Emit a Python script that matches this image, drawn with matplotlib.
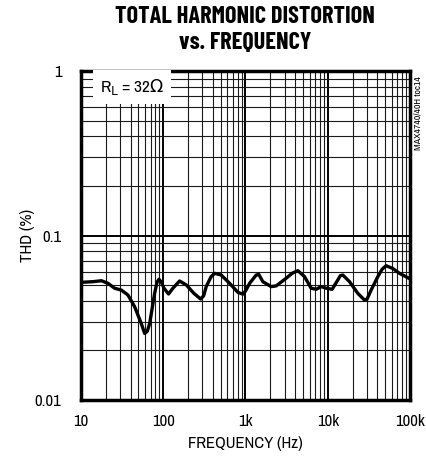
import matplotlib.pyplot as plt
from matplotlib import font_manager

# Données (fréquence en Hz, THD en %)
freq = [10, 14, 17.7, 21.3, 25.6, 30.9, 37.2, 44.9, 54, 59.4, 64, 68.4, 78.5,
        84, 88.7, 95, 102, 116, 131, 158, 191, 236, 285, 310, 333, 380, 421,
        507, 641, 809, 929, 1000, 1122, 1349, 1450, 1626, 2052, 2360, 2700,
        3124, 3700, 4333, 5226, 6286, 7230, 8318, 9550, 11300, 13270, 14200,
        15250, 18400, 23200, 28000, 30000, 33700, 40600, 46000, 51300, 61800,
        74500, 100000]
thd = [0.0519, 0.0524, 0.0531, 0.0512, 0.0478, 0.0466, 0.0435, 0.0369, 0.0292,
       0.0254, 0.0262, 0.0292, 0.0445, 0.0520, 0.0542, 0.0520, 0.0478, 0.0441,
       0.0478, 0.0529, 0.050, 0.0445, 0.0411, 0.0430, 0.0489, 0.0560, 0.0589,
       0.0575, 0.0512, 0.0451, 0.0440, 0.0460, 0.0512, 0.0575, 0.0580, 0.0524,
       0.0489, 0.0494, 0.0520, 0.055, 0.0590, 0.0611, 0.0562, 0.0478, 0.0471,
       0.0489, 0.0478, 0.0471, 0.0537, 0.0570, 0.0575, 0.0524, 0.0445, 0.0405,
       0.0410, 0.0466, 0.0562, 0.0625, 0.0655, 0.063, 0.0589, 0.0545]

xticks = [10, 100, 1000, 10000, 100000]
xlabels = ["10", "100", "1k", "10k", "100k"]
yticks = [0.01, 0.1, 1]
ylabels = ["0.01", "0.1", "1"]

noms = {f.name for f in font_manager.fontManager.ttflist}


def choisir(*candidats):
    for c in candidats:
        if c in noms:
            return c
    return "Liberation Sans"


police = choisir("Liberation Sans Narrow", "Archivo Narrow", "Barlow Semi Condensed")
police_titre = choisir("Barlow Condensed", "Asap Condensed", police)
plt.rcParams['font.family'] = [police, 'DejaVu Sans']

fig = plt.figure(figsize=(4.27, 4.59), dpi=100)
ax = fig.add_axes([81 / 427, 1 - 400 / 459, 329 / 427, 329 / 459])

ax.set_xscale("log")
ax.set_yscale("log")
ax.set_xlim(10, 100000)
ax.set_ylim(0.01, 1)

# Grille
ax.grid(True, which="major", color="black", linewidth=1.4)
ax.grid(True, which="minor", color="#1a1a1a", linewidth=0.8)
ax.tick_params(which="both", length=0)
ax.set_xticks(xticks, xlabels, fontsize=12)
ax.set_yticks(yticks, ylabels, fontsize=12)
ax.tick_params(axis="x", pad=10)
ax.tick_params(axis="y", pad=14)
for s in ax.spines.values():
    s.set_linewidth(2.5)

ax.plot(freq, thd, color="black", linewidth=2.4, solid_joinstyle="round",
        solid_capstyle="round")

ax.set_xlabel("FREQUENCY (Hz)", fontsize=12, labelpad=5)
ax.set_ylabel("THD (%)", fontsize=12, labelpad=0)

# Boîte R_L
ax.text(0.058, 0.952, r"R$_\mathrm{L}$ = 32$\Omega$", transform=ax.transAxes,
        fontsize=12.5, va="center", ha="left",
        bbox=dict(facecolor="white", edgecolor="none", pad=5))

fig.text(245 / 427, 1 - 30 / 459, "TOTAL HARMONIC DISTORTION\nvs. FREQUENCY",
         ha="center", va="center", fontsize=17.5, fontweight="bold",
         family=[police_titre, 'DejaVu Sans'], linespacing=1.22)
fig.text(418 / 427, 1 - 113 / 459, "MAX4740/40H toc14", rotation=90,
         ha="center", va="center", fontsize=7)

fig.savefig("out.png", dpi=100)
